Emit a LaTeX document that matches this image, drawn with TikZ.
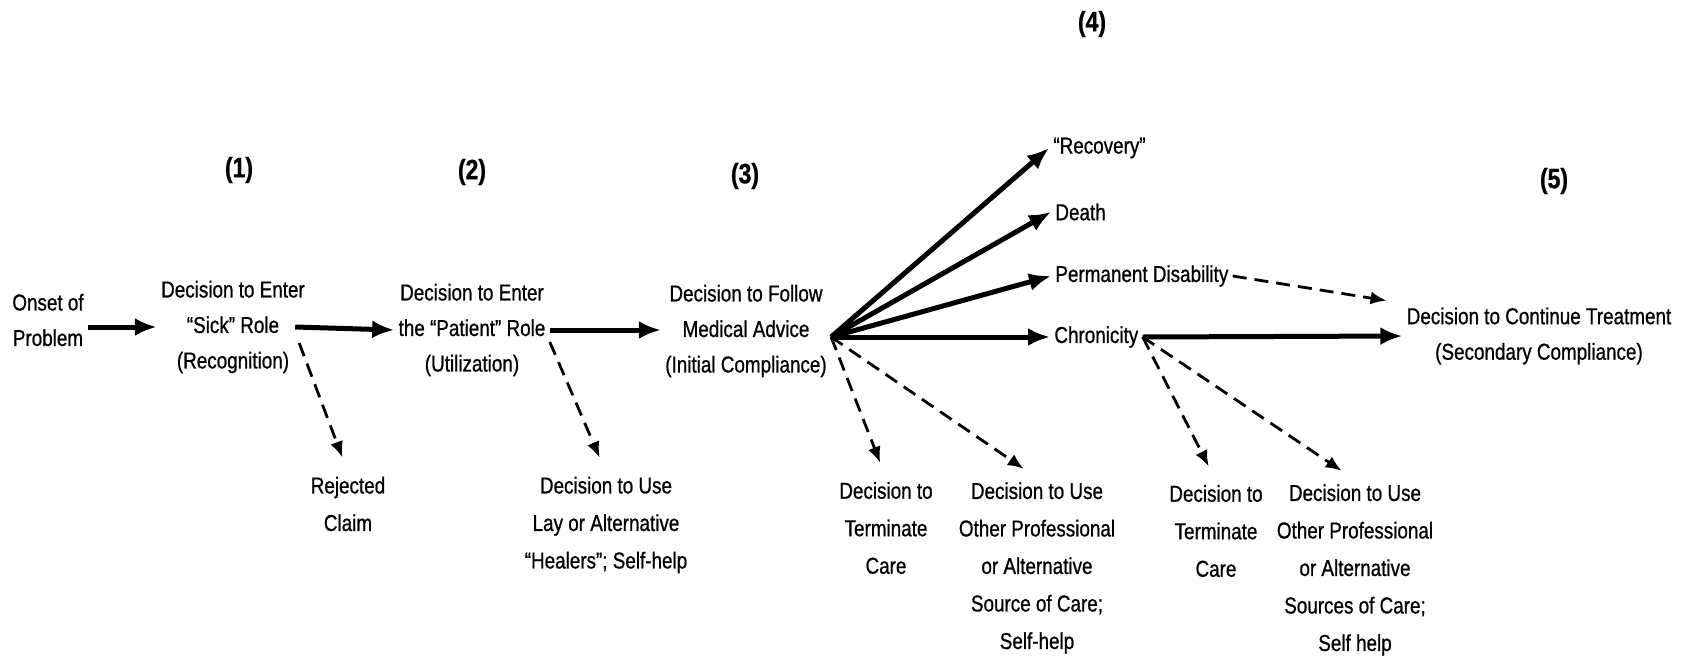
\documentclass[tikz,border=0pt]{standalone}
\usepackage{fontspec}
\setmainfont{Liberation Sans}[FakeStretch=0.82,FakeBold=0.8]
\usetikzlibrary{arrows.meta}

\begin{document}
\begin{tikzpicture}[
    x=0.5pt,y=-0.5pt,
    every node/.style={font=\fontsize{11.5}{17.75}\selectfont,align=center,inner sep=2pt},
    low/.style={font=\fontsize{11.5}{18.75}\selectfont},
    stage/.style={font=\fontsize{14}{16}\selectfont\bfseries},
    flow/.style={line width=2.5pt,-{Latex[length=11pt,width=9pt]}},
    alt/.style={line width=1.4pt,dash pattern=on 7pt off 4pt,-{Latex[length=8pt,width=6.5pt]},shorten >=8pt}
]
    \useasboundingbox (0,0) rectangle (1690,664);

    \node[stage] (s1) at (239,170) {(1)};
    \node[stage] (s2) at (472,172) {(2)};
    \node[stage] (s3) at (745,176) {(3)};
    \node[stage] (s4) at (1092,24) {(4)};
    \node[stage] (s5) at (1554,181) {(5)};

    \node (onset) at (48,320) {Onset of\\Problem};
    \node (sick) at (233,327) {Decision to Enter\\``Sick'' Role\\(Recognition)};
    \node (patient) at (472,330) {Decision to Enter\\the ``Patient'' Role\\(Utilization)};
    \node (follow) at (746,331) {Decision to Follow\\Medical Advice\\(Initial Compliance)};
    \node[anchor=west] (recovery) at (1049,148) {``Recovery''};
    \node[anchor=west] (death) at (1051,212) {Death};
    \node[anchor=west] (perm) at (1051,276) {Permanent Disability};
    \node[anchor=west] (chron) at (1050,337) {Chronicity};
    \node (cont) at (1539,336) {Decision to Continue Treatment\\(Secondary Compliance)};

    \node[low] (rejected) at (348,504) {Rejected\\Claim};
    \node[low] (lay) at (606,525) {Decision to Use\\Lay or Alternative\\``Healers''; Self-help};
    \node[low] (term1) at (886,528) {Decision to\\Terminate\\Care};
    \node[low] (other1) at (1037,568) {Decision to Use\\Other Professional\\or Alternative\\Source of Care;\\Self-help};
    \node[low] (term2) at (1216,531) {Decision to\\Terminate\\Care};
    \node[low] (other2) at (1355,570) {Decision to Use\\Other Professional\\or Alternative\\Sources of Care;\\Self help};

    \coordinate (fhub) at ([yshift=-3pt]follow.east);

    \draw[flow] (onset.east |- sick) -- (sick.west);
    \draw[flow] ([xshift=-7pt]sick.east) -- (patient.west);
    \draw[flow] (patient.east) -- (patient.east -| follow.west);
    \foreach \target in {recovery,death,perm,chron}
        \draw[flow] (fhub) -- (\target.west);
    \draw[flow] (chron.east) -- (cont.west);

    \draw[alt] (perm.east) -- (cont.north west);
    \draw[alt] ([xshift=-5pt,yshift=-8pt]sick.east) -- (rejected.north);
    \draw[alt] ([yshift=-6pt]patient.east) -- (lay.north);
    \draw[alt] (fhub) -- (term1.north);
    \draw[alt] (fhub) -- (other1.north);
    \draw[alt] (chron.east) -- (term2.north);
    \draw[alt] (chron.east) -- (other2.north);
\end{tikzpicture}
\end{document}
